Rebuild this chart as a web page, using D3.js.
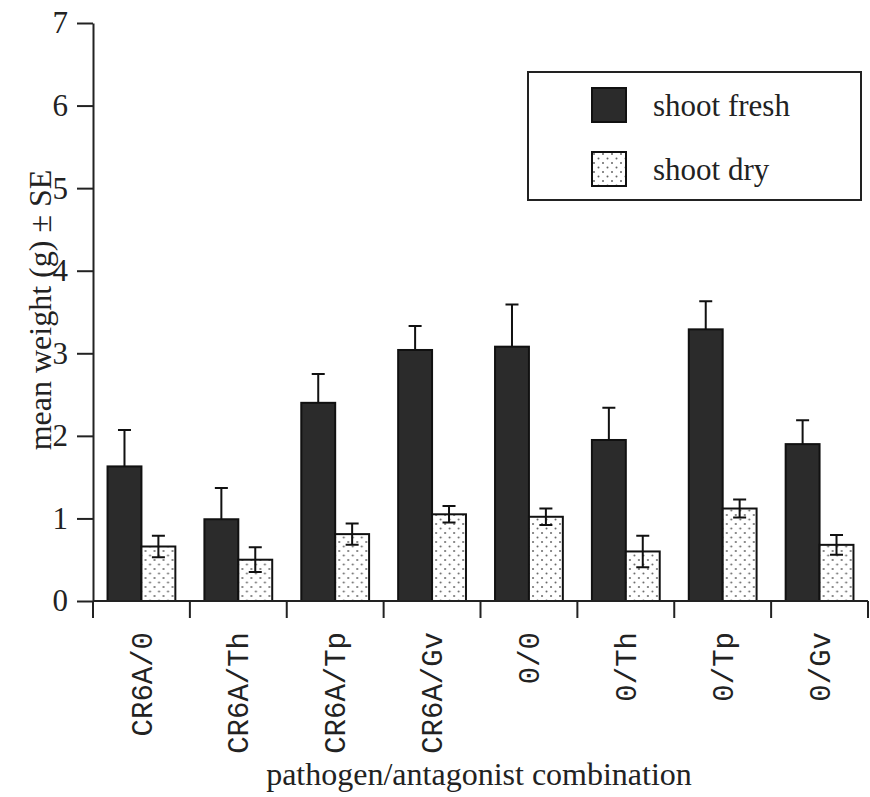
<!DOCTYPE html>
<html>
<head>
<meta charset="utf-8">
<script src="https://cdn.jsdelivr.net/npm/d3@7"></script>
<style>
  body { margin: 0; background: #fff; }
  svg text { fill: #222; }
</style>
</head>
<body>
<div id="chart"></div>
<script>
var width = 870, height = 797;

// data
var categories = ["CR6A/0", "CR6A/Th", "CR6A/Tp", "CR6A/Gv", "0/0", "0/Th", "0/Tp", "0/Gv"];
var series = ["shoot fresh", "shoot dry"];
var freshMean = [1.63, 0.99, 2.40, 3.04, 3.08, 1.95, 3.29, 1.90];
var freshSE   = [0.44, 0.38, 0.35, 0.29, 0.51, 0.39, 0.34, 0.29];
var dryMean   = [0.66, 0.50, 0.81, 1.05, 1.02, 0.60, 1.12, 0.68];
var drySE     = [0.13, 0.15, 0.13, 0.10, 0.10, 0.19, 0.11, 0.12];
var yTicks    = [0, 1, 2, 3, 4, 5, 6, 7];

var rows = categories.map(function (c, i) {
    return {
        name: c,
        values: [
            {key: series[0], mean: freshMean[i], se: freshSE[i]},
            {key: series[1], mean: dryMean[i], se: drySE[i]}
        ]
    };
});

var svg = d3.select("#chart").append("svg")
    .attr("width", width)
    .attr("height", height);

// dotted fill for the dry bars
var pat = svg.append("defs").append("pattern")
    .attr("id", "dots")
    .attr("patternUnits", "userSpaceOnUse")
    .attr("width", 9).attr("height", 9);
pat.append("rect").attr("width", 9).attr("height", 9).attr("fill", "#fff");
pat.append("circle").attr("cx", 2).attr("cy", 2).attr("r", 1).attr("fill", "#666");
pat.append("circle").attr("cx", 6.5).attr("cy", 6.5).attr("r", 1).attr("fill", "#666");

var plotLeft = 93, plotRight = 868, plotTop = 23, plotBottom = 601;

var y = d3.scaleLinear().domain([0, 7]).range([plotBottom, plotTop]);
var xGroup = d3.scaleBand().domain(categories).range([plotLeft, plotRight]);
var x0 = d3.scaleBand().domain(categories).range([plotLeft, plotRight])
    .paddingInner(0.3).paddingOuter(0.15);
var x1 = d3.scaleBand().domain(series).range([0, x0.bandwidth()]);

var fill = function (k) {
    if (k == series[0]) return "#2b2b2b";
    return "url(#dots)";
};

// y axis
var yAxis = svg.append("g")
    .attr("transform", "translate(" + plotLeft + ",0)")
    .call(d3.axisLeft(y).tickValues(yTicks).tickFormat(d3.format("d"))
        .tickSize(16).tickPadding(9).tickSizeOuter(0));
yAxis.select(".domain").attr("stroke", "#222").attr("stroke-width", 2);
yAxis.selectAll(".tick line").attr("stroke", "#222").attr("stroke-width", 2);
yAxis.selectAll(".tick text")
    .attr("font-family", "Liberation Serif, serif")
    .attr("font-size", 31)
    .attr("fill", "#222");

// bars
var groups = svg.selectAll("g.grp")
    .data(rows).enter()
    .append("g")
    .attr("class", "grp")
    .attr("transform", function (d) { return "translate(" + x0(d.name) + ",0)"; });

groups.selectAll("rect")
    .data(function (d) { return d.values; }).enter()
    .append("rect")
    .attr("x", function (d) { return x1(d.key); })
    .attr("y", function (d) { return y(d.mean); })
    .attr("width", x1.bandwidth())
    .attr("height", function (d) { return y(0) - y(d.mean); })
    .attr("fill", function (d) { return fill(d.key); })
    .attr("stroke", "#111")
    .attr("stroke-width", 2);

// error bars (fresh only shows the upper half above the dark bar)
var capW = 13;
groups.selectAll("path.err")
    .data(function (d) { return d.values; }).enter()
    .append("path")
    .attr("class", "err")
    .attr("d", function (d) {
        var cx = x1(d.key) + x1.bandwidth() / 2;
        var lo = d.key == series[0] ? d.mean : d.mean - d.se;
        var hi = d.mean + d.se;
        return "M" + cx + "," + y(lo) + "V" + y(hi)
            + "M" + (cx - capW / 2) + "," + y(hi) + "H" + (cx + capW / 2)
            + (d.key == series[0] ? "" : "M" + (cx - capW / 2) + "," + y(lo) + "H" + (cx + capW / 2));
    })
    .attr("fill", "none")
    .attr("stroke", "#111")
    .attr("stroke-width", 2);

// x axis with ticks at the group boundaries
var xa = svg.append("g");
xa.append("line")
    .attr("x1", plotLeft).attr("x2", plotRight)
    .attr("y1", y(0)).attr("y2", y(0))
    .attr("stroke", "#222").attr("stroke-width", 2);
var bounds = categories.map(function (c) { return xGroup(c); }).concat([plotRight]);
xa.selectAll("line.tk")
    .data(bounds).enter()
    .append("line")
    .attr("class", "tk")
    .attr("x1", function (d) { return d; }).attr("x2", function (d) { return d; })
    .attr("y1", y(0)).attr("y2", y(0) + 17)
    .attr("stroke", "#222").attr("stroke-width", 2);

xa.selectAll("text")
    .data(categories).enter()
    .append("text")
    .attr("transform", function (d) {
        return "translate(" + (xGroup(d) + xGroup.bandwidth() / 2) + ",632) rotate(-90)";
    })
    .attr("text-anchor", "end")
    .attr("dy", "0.35em")
    .attr("font-family", "Liberation Mono, monospace")
    .attr("font-size", 29)
    .text(function (d) { return d; });

// axis titles
svg.append("text")
    .attr("transform", "translate(40,310) rotate(-90)")
    .attr("text-anchor", "middle")
    .attr("dy", "0.35em")
    .attr("font-family", "Liberation Serif, serif")
    .attr("font-size", 32)
    .text("mean weight (g) \u00b1 SE");

svg.append("text")
    .attr("x", 479).attr("y", 785)
    .attr("text-anchor", "middle")
    .attr("font-family", "Liberation Serif, serif")
    .attr("font-size", 32)
    .text("pathogen/antagonist combination");

// legend
var legend = svg.append("g");
legend.append("rect")
    .attr("x", 528).attr("y", 72)
    .attr("width", 333).attr("height", 128)
    .attr("fill", "#fff")
    .attr("stroke", "#222")
    .attr("stroke-width", 2);
var items = legend.selectAll("g.item")
    .data(series).enter()
    .append("g")
    .attr("class", "item")
    .attr("transform", function (d, i) { return "translate(592," + (88 + i * 64) + ")"; });
items.append("rect")
    .attr("width", 34).attr("height", 34)
    .attr("fill", function (d) { return fill(d); })
    .attr("stroke", "#111")
    .attr("stroke-width", 2);
items.append("text")
    .attr("x", 61).attr("y", 17)
    .attr("dy", "0.35em")
    .attr("font-family", "Liberation Serif, serif")
    .attr("font-size", 31)
    .text(function (d) { return d; });
</script>
</body>
</html>
